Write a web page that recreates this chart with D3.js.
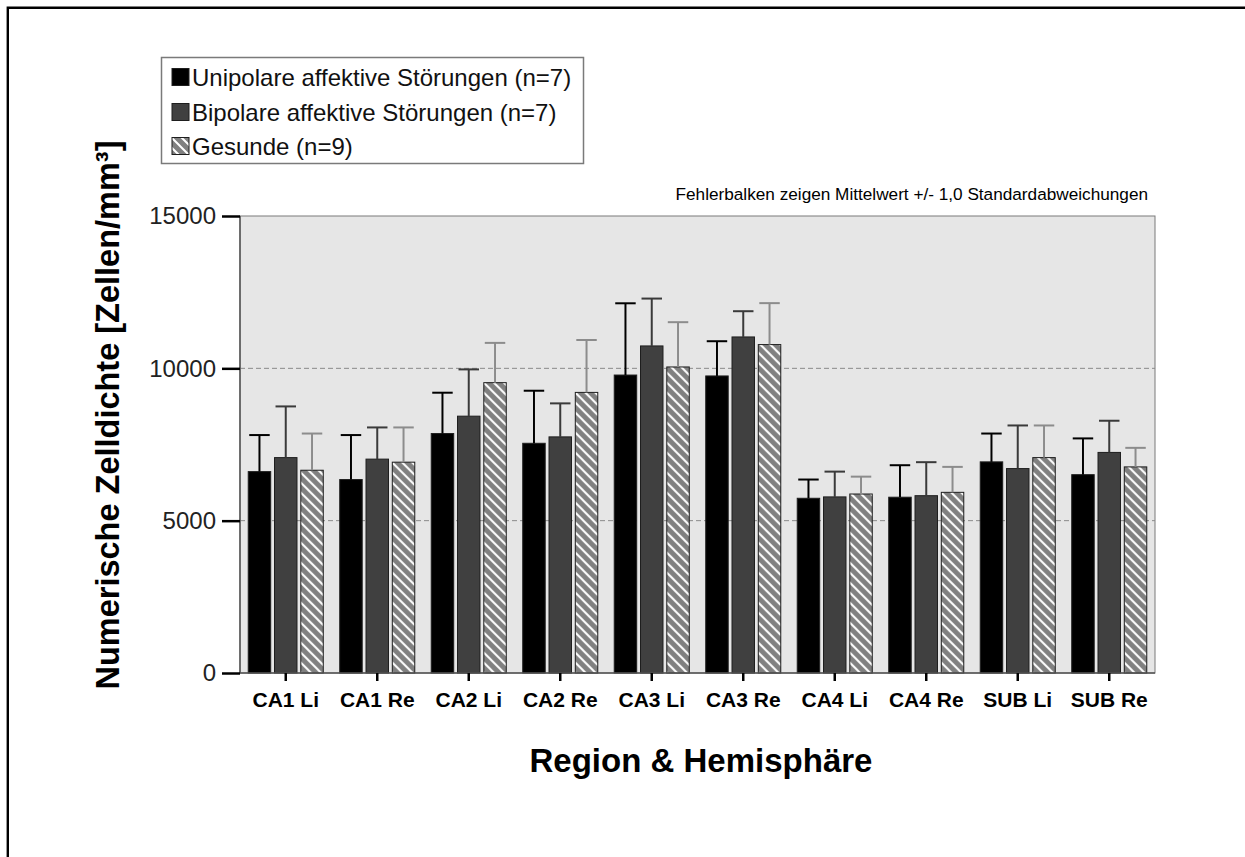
<!DOCTYPE html>
<html>
<head>
<meta charset="utf-8">
<script src="https://cdn.jsdelivr.net/npm/d3@7"></script>
<style>
  html, body { margin: 0; padding: 0; background: #fff; overflow: hidden; width: 1245px; height: 857px; }
  svg { display: block; position: absolute; left: 0; top: 0; }
  text { font-family: "Liberation Sans", Arial, sans-serif; }
</style>
</head>
<body>
<svg id="chart" width="1245" height="857"></svg>
<script>
// Categories (region & hemisphere)
const regions = ["CA1 Li", "CA1 Re", "CA2 Li", "CA2 Re", "CA3 Li", "CA3 Re", "CA4 Li", "CA4 Re", "SUB Li", "SUB Re"];
const groupNames = ["Unipolare affektive Störungen (n=7)", "Bipolare affektive Störungen (n=7)", "Gesunde (n=9)"];

// Mean cell density (cells/mm³) per group
const unipolarMean = [6610, 6350, 7860, 7540, 9780, 9750, 5735, 5770, 6930, 6510];
const bipolarMean  = [7070, 7020, 8430, 7750, 10735, 11030, 5780, 5820, 6710, 7240];
const healthyMean  = [6655, 6920, 9530, 9210, 10045, 10780, 5875, 5930, 7070, 6765];

// Standard deviations per group
const unipolarSD = [1200, 1460, 1340, 1725, 2355, 1140, 615, 1050, 930, 1190];
const bipolarSD  = [1680, 1040, 1535, 1100, 1555, 845, 830, 1100, 1415, 1040];
const healthySD  = [1205, 1140, 1305, 1720, 1470, 1360, 570, 835, 1055, 625];

const yTicks = [0, 5000, 10000, 15000];
const gridValues = [5000, 10000];

const series = [
  { key: "uni", name: groupNames[0], mean: unipolarMean, sd: unipolarSD, fill: "#000000", err: "#000000" },
  { key: "bi",  name: groupNames[1], mean: bipolarMean,  sd: bipolarSD,  fill: "#404040", err: "#3a3a3a" },
  { key: "ges", name: groupNames[2], mean: healthyMean,  sd: healthySD,  fill: "url(#hatch)", err: "#8c8c8c" }
];

const svg = d3.select("#chart");

// White page background
svg.append("rect").attr("width", 1245).attr("height", 857).attr("fill", "#fff");

// Outer frame (top and left edges visible)
svg.append("path")
  .attr("d", "M7.8,860 V7.8 H1250")
  .attr("fill", "none").attr("stroke", "#000").attr("stroke-width", 2.4);

// Diagonal hatch for the healthy group
const defs = svg.append("defs");
const pat = defs.append("pattern").attr("id", "hatch")
  .attr("patternUnits", "userSpaceOnUse").attr("width", 10).attr("height", 10);
pat.append("rect").attr("width", 10).attr("height", 10).attr("fill", "#808080");
pat.append("path")
  .attr("d", "M-2,-2 L12,12 M-7,3 L7,17 M3,-7 L17,7")
  .attr("stroke", "#ffffff").attr("stroke-width", 2);

const plot = { left: 240, right: 1155, top: 216, bottom: 673 };

const x = d3.scaleBand().domain(regions)
  .range([plot.left, plot.right]).paddingInner(0.18).paddingOuter(0.09);
const xInner = d3.scaleBand().domain(series.map(s => s.key))
  .range([0, x.bandwidth()]).paddingInner(0.145);
const y = d3.scaleLinear().domain([0, 15000]).range([plot.bottom, plot.top]);

// Plot background
svg.append("rect")
  .attr("x", plot.left).attr("y", plot.top)
  .attr("width", plot.right - plot.left).attr("height", plot.bottom - plot.top)
  .attr("fill", "#e6e6e6").attr("stroke", "#7a7a7a").attr("stroke-width", 1);

// Dashed reference lines
svg.append("g").selectAll("line").data(gridValues).join("line")
  .attr("x1", plot.left).attr("x2", plot.right)
  .attr("y1", d => y(d)).attr("y2", d => y(d))
  .attr("stroke", "#8a8a8a").attr("stroke-width", 1).attr("stroke-dasharray", "5,3");

// Bars
const gGroups = svg.append("g").selectAll("g").data(regions).join("g")
  .attr("transform", d => `translate(${x(d)},0)`);

gGroups.selectAll("rect")
  .data((r, i) => series.map(s => ({ s, v: s.mean[i] })))
  .join("rect")
  .attr("x", d => xInner(d.s.key))
  .attr("y", d => y(d.v))
  .attr("width", xInner.bandwidth())
  .attr("height", d => y(0) - y(d.v))
  .attr("fill", d => d.s.fill)
  .attr("stroke", "#1e1e1e").attr("stroke-width", 1);

// Error bars (mean + 1 SD)
const capW = xInner.bandwidth() - 2;
const eb = gGroups.selectAll("g.err")
  .data((r, i) => series.map(s => ({ s, v: s.mean[i], e: s.mean[i] + s.sd[i] })))
  .join("g").attr("class", "err");
eb.append("line")
  .attr("x1", d => xInner(d.s.key) + xInner.bandwidth() / 2)
  .attr("x2", d => xInner(d.s.key) + xInner.bandwidth() / 2)
  .attr("y1", d => y(d.v)).attr("y2", d => y(d.e))
  .attr("stroke", d => d.s.err).attr("stroke-width", 2);
eb.append("line")
  .attr("x1", d => xInner(d.s.key) + xInner.bandwidth() / 2 - capW / 2)
  .attr("x2", d => xInner(d.s.key) + xInner.bandwidth() / 2 + capW / 2)
  .attr("y1", d => y(d.e)).attr("y2", d => y(d.e))
  .attr("stroke", d => d.s.err).attr("stroke-width", 2);

// Axes lines
svg.append("line")
  .attr("x1", plot.left).attr("x2", plot.left).attr("y1", plot.top).attr("y2", plot.bottom)
  .attr("stroke", "#555").attr("stroke-width", 1.5);
svg.append("line")
  .attr("x1", plot.left).attr("x2", plot.right).attr("y1", plot.bottom).attr("y2", plot.bottom)
  .attr("stroke", "#555").attr("stroke-width", 1.5);

// Y axis
const yAxis = svg.append("g").attr("transform", `translate(${plot.left},0)`)
  .call(d3.axisLeft(y).tickValues(yTicks).tickFormat(d3.format("d")).tickSize(18).tickPadding(6));
yAxis.select(".domain").remove();
yAxis.selectAll(".tick line").attr("stroke", "#000").attr("stroke-width", 2.5);
yAxis.selectAll(".tick text").attr("font-size", 24).attr("fill", "#222")
  .attr("font-family", "Liberation Sans, Arial, sans-serif");

// X axis
const xAxis = svg.append("g").attr("transform", `translate(0,${plot.bottom})`)
  .call(d3.axisBottom(x).tickSize(8).tickPadding(11));
xAxis.select(".domain").remove();
xAxis.selectAll(".tick line").attr("stroke", "#000").attr("stroke-width", 2.5);
xAxis.selectAll(".tick text").attr("font-size", 21).attr("font-weight", "bold").attr("fill", "#000")
  .attr("font-family", "Liberation Sans, Arial, sans-serif");

// Axis titles
svg.append("text")
  .attr("x", 701).attr("y", 772).attr("text-anchor", "middle")
  .attr("font-size", 33).attr("font-weight", "bold").attr("fill", "#000")
  .text("Region & Hemisphäre");
svg.append("text")
  .attr("transform", "translate(119,415) rotate(-90)")
  .attr("text-anchor", "middle")
  .attr("font-size", 32.5).attr("font-weight", "bold").attr("fill", "#000")
  .text("Numerische Zelldichte [Zellen/mm³]");

// Error bar note
svg.append("text")
  .attr("x", 1148).attr("y", 200).attr("text-anchor", "end")
  .attr("font-size", 17.2).attr("fill", "#000")
  .text("Fehlerbalken zeigen Mittelwert +/- 1,0 Standardabweichungen");

// Legend
const legend = svg.append("g");
legend.append("rect")
  .attr("x", 161.5).attr("y", 57.5).attr("width", 422).attr("height", 106)
  .attr("fill", "#fff").attr("stroke", "#7a7a7a").attr("stroke-width", 1.5);
const rowY = [77, 112, 146];
const items = legend.selectAll("g.item").data(series).join("g").attr("class", "item")
  .attr("transform", (d, i) => `translate(0,${rowY[i]})`);
items.append("rect")
  .attr("x", 172).attr("y", -8.5).attr("width", 17).attr("height", 17)
  .attr("fill", d => d.fill).attr("stroke", "#1e1e1e").attr("stroke-width", 1);
items.append("text")
  .attr("x", 192).attr("y", 8.5)
  .attr("font-size", 24).attr("fill", "#111")
  .text(d => d.name);
</script>
</body>
</html>
